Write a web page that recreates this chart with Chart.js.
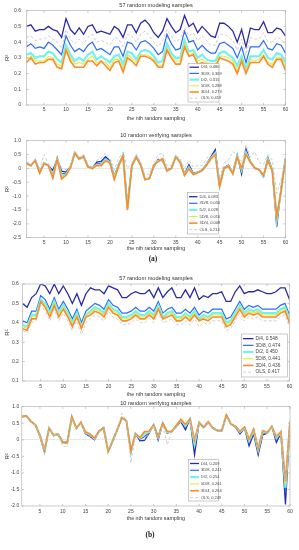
<!DOCTYPE html>
<html>
<head>
<meta charset="utf-8">
<script src="https://cdn.jsdelivr.net/npm/chart.js@4.4.1/dist/chart.umd.min.js"></script>
<style>
body{margin:0;background:#fff;width:299px;height:550px;overflow:hidden;position:relative;font-family:"Liberation Sans",Arial,sans-serif;}
canvas{position:absolute;left:0;}
.cap{position:absolute;font-family:"Liberation Serif",serif;font-weight:bold;font-size:7.5px;color:#222;transform:translate(-50%,-50%);}
</style>
</head>
<body>
<canvas id="c1" width="299" height="126"></canvas>
<canvas id="c2" width="299" height="126"></canvas>
<canvas id="c3" width="299" height="128"></canvas>
<canvas id="c4" width="299" height="128"></canvas>
<div class="cap" style="left:153px;top:257.5px">(a)</div>
<div class="cap" style="left:150px;top:534px">(b)</div>
<script>

// DATA

const seriesNames = ["D/4","3D/8","D/2","5D/8","3D/4","OLS"];
const xTicks = [5,10,15,20,25,30,35,40,45,50,55,60];

// (a) 57 random modeling samples
const modA_D4  = [0.50,0.51,0.47,0.48,0.48,0.50,0.48,0.47,0.43,0.55,0.48,0.45,0.49,0.45,0.50,0.51,0.46,0.47,0.46,0.45,0.50,0.48,0.43,0.51,0.51,0.46,0.52,0.54,0.51,0.46,0.43,0.47,0.55,0.50,0.46,0.48,0.57,0.50,0.52,0.46,0.50,0.47,0.44,0.43,0.52,0.52,0.50,0.47,0.40,0.48,0.37,0.49,0.48,0.48,0.53,0.46,0.46,0.49,0.48,0.44];
const modA_3D8 = [0.37,0.39,0.36,0.37,0.36,0.40,0.38,0.35,0.32,0.44,0.38,0.34,0.36,0.34,0.38,0.40,0.35,0.36,0.34,0.32,0.37,0.37,0.31,0.40,0.39,0.35,0.40,0.41,0.39,0.36,0.32,0.34,0.45,0.39,0.35,0.36,0.47,0.40,0.41,0.35,0.38,0.35,0.33,0.33,0.39,0.40,0.38,0.36,0.30,0.37,0.27,0.37,0.37,0.37,0.41,0.36,0.35,0.39,0.38,0.33];
const modA_D2  = [0.32,0.33,0.30,0.31,0.31,0.34,0.33,0.29,0.27,0.38,0.32,0.28,0.30,0.28,0.32,0.34,0.29,0.31,0.29,0.27,0.31,0.32,0.26,0.34,0.33,0.29,0.34,0.35,0.34,0.31,0.27,0.28,0.39,0.33,0.30,0.30,0.41,0.34,0.35,0.30,0.32,0.29,0.28,0.28,0.33,0.34,0.32,0.30,0.25,0.31,0.23,0.31,0.31,0.31,0.35,0.30,0.29,0.33,0.32,0.27];
const modA_5D8 = [0.29,0.31,0.28,0.28,0.28,0.31,0.30,0.26,0.25,0.36,0.30,0.26,0.27,0.26,0.29,0.31,0.27,0.28,0.27,0.24,0.29,0.29,0.23,0.32,0.30,0.27,0.32,0.32,0.31,0.29,0.25,0.25,0.36,0.31,0.28,0.28,0.39,0.32,0.33,0.28,0.29,0.27,0.26,0.26,0.31,0.31,0.30,0.28,0.22,0.29,0.21,0.29,0.28,0.29,0.32,0.27,0.26,0.30,0.30,0.24];
const modA_3D4 = [0.27,0.30,0.26,0.27,0.27,0.29,0.29,0.24,0.23,0.35,0.28,0.24,0.24,0.24,0.28,0.28,0.25,0.28,0.25,0.22,0.27,0.28,0.21,0.30,0.28,0.25,0.31,0.31,0.30,0.28,0.24,0.24,0.35,0.30,0.26,0.26,0.37,0.31,0.32,0.26,0.27,0.26,0.24,0.24,0.30,0.29,0.28,0.26,0.20,0.28,0.20,0.27,0.27,0.27,0.31,0.26,0.24,0.29,0.29,0.22];
const modA_OLS = [0.43,0.44,0.41,0.42,0.42,0.44,0.42,0.40,0.36,0.48,0.42,0.39,0.42,0.39,0.43,0.45,0.40,0.41,0.40,0.38,0.43,0.42,0.37,0.45,0.44,0.40,0.45,0.47,0.44,0.40,0.37,0.41,0.48,0.44,0.40,0.42,0.49,0.44,0.46,0.41,0.44,0.41,0.38,0.38,0.45,0.45,0.43,0.41,0.35,0.42,0.32,0.43,0.42,0.42,0.46,0.40,0.40,0.43,0.42,0.38];
const modA_legend = ["0.480","0.369","0.315","0.288","0.273","0.419"];

// (a) 10 random verifying samples
const verA_D4  = [0.20,0.10,0.30,-0.13,0.20,0.10,-0.07,0.35,-0.10,-0.13,0.05,0.57,0.33,0.45,0.08,0.00,0.23,0.25,0.42,0.27,-0.28,0.15,0.48,-1.30,0.10,0.45,0.15,-0.40,-0.35,0.05,0.33,0.27,-0.05,0.00,0.42,0.25,-0.20,0.13,-0.18,-0.13,-0.05,0.15,0.42,0.68,-0.60,0.03,0.12,-0.15,0.48,-0.20,0.70,0.25,0.00,-0.05,-0.30,0.38,-0.05,-2.10,-0.70,0.35];
const verA_3D8 = [0.20,0.10,0.30,-0.14,0.20,0.10,-0.20,0.35,-0.20,-0.18,0.05,0.57,0.33,0.44,0.07,0.00,0.17,0.18,0.36,0.24,-0.33,0.13,0.47,-1.40,0.10,0.43,0.14,-0.40,-0.35,0.08,0.30,0.30,-0.07,0.00,0.42,0.24,-0.22,0.07,-0.20,-0.14,-0.06,0.14,0.40,0.60,-0.62,0.02,0.10,-0.17,0.45,-0.10,0.62,0.24,0.02,-0.05,-0.28,0.34,-0.07,-1.95,-0.75,0.35];
const verA_D2  = [0.19,0.10,0.30,-0.15,0.19,0.10,-0.28,0.35,-0.28,-0.22,0.04,0.56,0.34,0.43,0.07,0.00,0.13,0.14,0.32,0.22,-0.36,0.12,0.46,-1.45,0.10,0.42,0.13,-0.40,-0.36,0.10,0.28,0.32,-0.08,0.00,0.42,0.23,-0.23,0.03,-0.21,-0.15,-0.07,0.13,0.37,0.55,-0.63,0.01,0.09,-0.18,0.43,-0.05,0.56,0.23,0.02,-0.05,-0.27,0.32,-0.08,-1.85,-0.78,0.35];
const verA_5D8 = [0.18,0.10,0.29,-0.16,0.18,0.10,-0.32,0.35,-0.33,-0.24,0.03,0.55,0.34,0.42,0.06,0.00,0.11,0.12,0.29,0.21,-0.38,0.11,0.45,-1.48,0.10,0.41,0.12,-0.40,-0.36,0.11,0.26,0.34,-0.08,0.00,0.41,0.22,-0.24,0.01,-0.22,-0.16,-0.08,0.12,0.36,0.52,-0.64,0.00,0.08,-0.19,0.42,-0.02,0.52,0.22,0.02,-0.05,-0.26,0.30,-0.09,-1.78,-0.80,0.35];
const verA_3D4 = [0.17,0.10,0.29,-0.17,0.17,0.10,-0.35,0.35,-0.38,-0.25,0.02,0.55,0.35,0.42,0.05,0.00,0.10,0.10,0.27,0.20,-0.40,0.10,0.45,-1.50,0.10,0.40,0.12,-0.40,-0.37,0.12,0.25,0.35,-0.09,0.00,0.41,0.21,-0.25,-0.01,-0.22,-0.16,-0.08,0.11,0.35,0.50,-0.65,0.00,0.08,-0.20,0.41,0.00,0.50,0.22,0.02,-0.05,-0.25,0.29,-0.10,-1.72,-0.82,0.35];
const verA_OLS = [0.25,0.15,0.32,0.00,0.50,0.15,0.05,0.35,0.00,-0.05,0.10,0.65,0.40,0.50,0.15,0.05,0.30,0.35,0.55,0.40,-0.05,0.35,0.60,0.00,0.20,0.50,0.25,-0.25,-0.20,0.20,0.50,0.55,0.10,0.10,0.50,0.35,0.00,0.30,0.05,0.10,0.10,0.35,0.55,0.45,-0.35,0.20,0.30,0.60,0.50,0.20,0.85,0.40,0.60,0.20,0.15,0.50,0.30,-0.90,-0.40,0.35];
const verA_legend = ["0.083","0.050","0.028","0.016","0.008","0.214"];

// (b) 57 random modeling samples
const modB_D4  = [0.50,0.48,0.53,0.55,0.60,0.59,0.55,0.60,0.55,0.59,0.55,0.50,0.55,0.49,0.55,0.58,0.57,0.57,0.55,0.59,0.58,0.57,0.53,0.53,0.55,0.56,0.55,0.55,0.57,0.53,0.58,0.53,0.56,0.58,0.53,0.53,0.57,0.53,0.58,0.52,0.54,0.53,0.55,0.55,0.56,0.51,0.51,0.56,0.59,0.55,0.56,0.56,0.57,0.56,0.55,0.55,0.56,0.58,0.58,0.52];
const modB_3D8 = [0.41,0.40,0.46,0.46,0.54,0.52,0.47,0.53,0.47,0.51,0.47,0.42,0.47,0.40,0.46,0.48,0.50,0.49,0.47,0.52,0.49,0.48,0.45,0.45,0.46,0.48,0.46,0.46,0.48,0.46,0.51,0.45,0.47,0.48,0.45,0.45,0.47,0.45,0.48,0.44,0.46,0.45,0.47,0.47,0.47,0.42,0.43,0.47,0.51,0.47,0.49,0.48,0.49,0.47,0.47,0.47,0.47,0.49,0.50,0.44];
const modB_D2  = [0.39,0.38,0.44,0.44,0.52,0.50,0.45,0.51,0.45,0.49,0.45,0.40,0.45,0.38,0.44,0.46,0.48,0.47,0.45,0.50,0.47,0.46,0.43,0.43,0.44,0.46,0.44,0.44,0.46,0.44,0.49,0.43,0.45,0.46,0.43,0.43,0.45,0.43,0.46,0.42,0.44,0.43,0.45,0.45,0.45,0.40,0.41,0.45,0.49,0.45,0.47,0.46,0.47,0.45,0.45,0.45,0.45,0.47,0.48,0.42];
const modB_5D8 = [0.38,0.37,0.43,0.43,0.51,0.49,0.44,0.50,0.44,0.48,0.44,0.39,0.44,0.37,0.44,0.45,0.47,0.46,0.44,0.49,0.46,0.45,0.42,0.42,0.43,0.45,0.43,0.43,0.45,0.43,0.48,0.42,0.44,0.45,0.42,0.42,0.44,0.42,0.45,0.41,0.43,0.42,0.44,0.44,0.44,0.39,0.40,0.44,0.48,0.44,0.46,0.45,0.46,0.44,0.44,0.44,0.44,0.46,0.47,0.41];
const modB_3D4 = [0.37,0.36,0.42,0.42,0.51,0.48,0.43,0.49,0.43,0.47,0.43,0.38,0.43,0.37,0.43,0.44,0.46,0.45,0.43,0.48,0.45,0.44,0.41,0.41,0.42,0.44,0.42,0.42,0.44,0.42,0.47,0.42,0.43,0.44,0.41,0.41,0.43,0.41,0.44,0.41,0.42,0.41,0.43,0.43,0.43,0.38,0.39,0.43,0.47,0.43,0.45,0.44,0.45,0.43,0.43,0.43,0.43,0.45,0.46,0.40];
const modB_OLS = [0.36,0.35,0.40,0.41,0.49,0.46,0.41,0.47,0.41,0.45,0.41,0.36,0.41,0.34,0.40,0.42,0.44,0.43,0.41,0.46,0.43,0.42,0.39,0.39,0.40,0.42,0.40,0.40,0.42,0.40,0.45,0.40,0.41,0.42,0.39,0.39,0.41,0.39,0.42,0.38,0.40,0.39,0.41,0.41,0.41,0.36,0.37,0.41,0.45,0.41,0.43,0.42,0.43,0.41,0.41,0.41,0.41,0.43,0.44,0.38];
const modB_legend = ["0.548","0.474","0.450","0.441","0.436","0.417"];

// (b) 10 random verifying samples
const verB_D4  = [0.70,0.72,0.55,0.45,0.10,-0.38,0.35,0.12,0.17,-0.07,-0.07,0.68,0.35,0.52,0.18,0.10,0.00,0.25,0.37,-0.35,-0.05,0.30,0.65,0.58,-0.38,0.18,-0.03,-0.02,0.20,0.45,0.00,0.50,0.20,0.25,0.40,0.55,0.30,0.62,-0.45,0.52,0.38,0.52,0.38,0.28,0.28,0.72,0.48,0.38,0.18,0.35,-0.18,0.18,-0.45,0.15,0.20,0.40,-0.08,0.20,-1.95,0.50];
const verB_3D8 = [0.70,0.72,0.55,0.45,0.12,-0.35,0.35,0.13,0.17,-0.07,-0.08,0.68,0.35,0.52,0.20,0.14,0.02,0.25,0.36,-0.35,-0.04,0.30,0.65,0.58,-0.36,0.18,0.02,0.10,0.22,0.45,0.05,0.50,0.22,0.25,0.42,0.58,0.38,0.62,-0.22,0.52,0.38,0.53,0.36,0.28,0.28,0.73,0.48,0.40,0.22,0.36,-0.08,0.25,-0.35,0.22,0.20,0.40,0.02,0.22,-1.60,0.52];
const verB_D2  = [0.70,0.72,0.56,0.45,0.13,-0.34,0.35,0.14,0.17,-0.08,-0.09,0.69,0.35,0.52,0.22,0.16,0.03,0.26,0.35,-0.35,-0.03,0.31,0.66,0.58,-0.35,0.18,0.05,0.18,0.24,0.45,0.08,0.50,0.23,0.25,0.43,0.60,0.42,0.63,-0.12,0.52,0.38,0.54,0.35,0.28,0.28,0.74,0.48,0.40,0.24,0.37,-0.03,0.28,-0.30,0.25,0.21,0.40,0.06,0.23,-1.45,0.53];
const verB_5D8 = [0.70,0.72,0.56,0.45,0.13,-0.33,0.35,0.14,0.17,-0.08,-0.10,0.69,0.35,0.52,0.23,0.17,0.04,0.26,0.35,-0.35,-0.03,0.31,0.66,0.58,-0.34,0.18,0.06,0.22,0.25,0.45,0.09,0.50,0.24,0.25,0.43,0.61,0.44,0.63,-0.06,0.52,0.38,0.54,0.35,0.28,0.28,0.74,0.48,0.41,0.25,0.37,0.00,0.30,-0.28,0.27,0.21,0.40,0.08,0.24,-1.35,0.54];
const verB_3D4 = [0.70,0.72,0.56,0.45,0.14,-0.32,0.35,0.15,0.17,-0.08,-0.10,0.70,0.35,0.52,0.24,0.18,0.05,0.27,0.34,-0.35,-0.02,0.31,0.67,0.58,-0.33,0.18,0.07,0.25,0.26,0.45,0.10,0.50,0.25,0.25,0.44,0.62,0.46,0.63,0.00,0.52,0.38,0.55,0.35,0.28,0.28,0.75,0.48,0.41,0.26,0.38,0.02,0.32,-0.26,0.28,0.22,0.40,0.10,0.25,-1.25,0.55];
const verB_OLS = [0.68,0.70,0.52,0.45,0.12,-0.30,0.38,0.15,0.20,-0.20,-0.20,0.65,0.35,0.50,0.18,0.10,0.02,0.25,0.33,-0.30,-0.05,0.30,0.80,0.58,-0.70,0.15,0.05,0.00,0.20,0.45,0.10,0.45,-0.15,0.25,0.40,0.55,0.45,0.60,0.00,0.55,0.40,0.55,0.35,0.30,0.30,0.70,0.50,0.40,0.25,0.35,0.05,0.30,-0.25,0.30,0.22,0.40,0.10,0.25,-1.20,0.55];
const verB_legend = ["0.209","0.241","0.254","0.261","0.264","0.249"];

// STYLES

const lineStyles = [
  {color:"#2b2ba6", width:1.3, dash:[]},
  {color:"#2c6cf6", width:1.2, dash:[]},
  {color:"#74f0ef", width:2.2, dash:[]},
  {color:"#dcee3a", width:1.1, dash:[]},
  {color:"#ff8a2e", width:1.6, dash:[]},
  {color:"#c4c4c4", width:0.8, dash:[3,2]}
];

const FONT = "'Liberation Sans', Arial, sans-serif";

// MATLAB style box with inward ticks
const boxPlugin = {
  id: "matlabBox",
  afterDatasetsDraw(chart){
    const ctx = chart.ctx;
    const a = chart.chartArea;
    const x = chart.scales.x, y = chart.scales.y;
    ctx.save();
    ctx.strokeStyle = "#a8a8a8";
    ctx.lineWidth = 0.6;
    ctx.strokeRect(a.left, a.top, a.right - a.left, a.bottom - a.top);
    ctx.beginPath();
    x.ticks.forEach(function(t){
      const px = x.getPixelForValue(t.value);
      ctx.moveTo(px, a.bottom); ctx.lineTo(px, a.bottom - 2.2);
      ctx.moveTo(px, a.top); ctx.lineTo(px, a.top + 2.2);
    });
    y.ticks.forEach(function(t){
      const py = y.getPixelForValue(t.value);
      ctx.moveTo(a.left, py); ctx.lineTo(a.left + 2.2, py);
      ctx.moveTo(a.right, py); ctx.lineTo(a.right - 2.2, py);
    });
    ctx.stroke();
    ctx.restore();
  }
};

// legend box inside the axes
const boxLegend = {
  id: "boxLegend",
  afterDraw(chart, args, o){
    if(!o || !o.values) return;
    const ctx = chart.ctx;
    ctx.save();
    ctx.fillStyle = "#fff";
    ctx.fillRect(o.x, o.y, o.w, o.h);
    ctx.strokeStyle = "#a8a8a8";
    ctx.lineWidth = 0.6;
    ctx.strokeRect(o.x, o.y, o.w, o.h);
    ctx.font = o.size + "px " + FONT;
    ctx.textBaseline = "middle";
    chart.data.datasets.forEach(function(ds, i){
      const yy = o.y + o.pad + o.row * (i + 0.5);
      ctx.strokeStyle = ds.borderColor;
      ctx.lineWidth = ds.borderWidth;
      ctx.setLineDash(ds.borderDash || []);
      ctx.beginPath();
      ctx.moveTo(o.x + 1.5, yy);
      ctx.lineTo(o.x + 1.5 + o.len, yy);
      ctx.stroke();
      ctx.setLineDash([]);
      ctx.fillStyle = "#444";
      ctx.fillText(ds.label + ", " + o.values[i], o.x + 3.5 + o.len, yy);
    });
    ctx.restore();
  }
};

function makeChart(id, s, lists, yMin, yMax, title, legend, zeroLine){

  const canvas = document.getElementById(id);
  canvas.style.top = s.top + "px";

  const titleSize = 5.6, tickSize = 5, labelSize = 5.3;
  const tTop = (s.titleY - s.top) - titleSize * 0.6;
  const tBottom = (s.plotTop - s.top) - titleSize * 1.2 - tTop;
  const xHeight = s.h - (s.plotBottom - s.top);

  const datasets = lists.map(function(list, i){
    return {
      label: seriesNames[i],
      data: list.map(function(v, k){ return {x: k + 1, y: v}; }),
      borderColor: lineStyles[i].color,
      borderWidth: lineStyles[i].width,
      borderDash: lineStyles[i].dash,
      pointRadius: 0,
      tension: 0,
      fill: false,
      order: 6 - i
    };
  });

  legend.y = legend.y - s.top;

  return new Chart(canvas, {
    type: "line",
    data: {datasets: datasets},
    plugins: [boxPlugin, boxLegend],
    options: {
      responsive: false,
      animation: false,
      events: [],
      layout: {padding: {left: 0, right: 299 - s.right, top: 0, bottom: 0}},
      plugins: {
        legend: {display: false},
        tooltip: {enabled: false},
        title: {
          display: true,
          text: title,
          fullSize: false,
          color: "#333",
          font: {family: FONT, size: titleSize, weight: "normal", lineHeight: 1.2},
          padding: {top: tTop, bottom: tBottom}
        },
        boxLegend: legend
      },
      scales: {
        x: {
          type: "linear",
          min: 1,
          max: 60,
          grid: {display: false, drawTicks: false},
          border: {display: false},
          afterBuildTicks: function(sc){ sc.ticks = xTicks.map(function(v){ return {value: v}; }); },
          afterFit: function(sc){ sc.height = xHeight; },
          ticks: {
            autoSkip: false,
            maxRotation: 0,
            color: "#444",
            padding: (s.tickY - s.plotBottom) - tickSize * 0.6,
            font: {family: FONT, size: tickSize, lineHeight: 1.2}
          },
          title: {
            display: true,
            text: "the nth random sampling",
            color: "#333",
            font: {family: FONT, size: labelSize, lineHeight: 1.2},
            padding: {top: 0, bottom: s.h - (s.xTitleY - s.top) - labelSize * 0.6}
          }
        },
        y: {
          min: yMin,
          max: yMax,
          grid: {
            display: zeroLine,
            drawTicks: false,
            lineWidth: 0.7,
            color: function(c){ return c.tick && c.tick.value === 0 ? "#dedede" : "rgba(0,0,0,0)"; }
          },
          border: {display: false},
          afterFit: function(sc){ sc.width = s.left; },
          ticks: {
            stepSize: s.step,
            color: "#444",
            padding: s.yPad,
            font: {family: FONT, size: tickSize, lineHeight: 1.2}
          },
          title: {
            display: true,
            text: "R²",
            color: "#333",
            font: {family: FONT, size: 6, lineHeight: 1.2},
            padding: {top: s.yTitleX - 3.6, bottom: 0}
          }
        }
      }
    }
  });
}

// PLOT (a) MODELING

makeChart("c1",
  {top: 0, h: 126, left: 26.5, right: 285.5, plotTop: 10.7, plotBottom: 105, titleY: 5.7, tickY: 110, xTitleY: 118.3, yTitleX: 7.3, yPad: 5.5, step: 0.1},
  [modA_D4, modA_3D8, modA_D2, modA_5D8, modA_3D4, modA_OLS], 0, 0.6,
  "57 random modeling samples",
  {x: 188, y: 63.5, w: 31, h: 38.5, pad: 0.6, row: 6.2, len: 9.5, size: 4, values: modA_legend},
  false);

// PLOT (a) VERIFYING

makeChart("c2",
  {top: 128, h: 126, left: 26.5, right: 285.5, plotTop: 140.7, plotBottom: 237.7, titleY: 135.7, tickY: 242.7, xTitleY: 248.3, yTitleX: 7.3, yPad: 5.5, step: 0.5},
  [verA_D4, verA_3D8, verA_D2, verA_5D8, verA_3D4, verA_OLS], -2.5, 1,
  "10 random verifying samples",
  {x: 187.5, y: 192.5, w: 31, h: 41.5, pad: 0.9, row: 6.6, len: 8.5, size: 4, values: verA_legend},
  true);

// PLOT (b) MODELING

makeChart("c3",
  {top: 270, h: 128, left: 22.6, right: 289.5, plotTop: 284, plotBottom: 381, titleY: 278, tickY: 386.7, xTitleY: 394.3, yTitleX: 7, yPad: 3.7, step: 0.1},
  [modB_D4, modB_3D8, modB_D2, modB_5D8, modB_3D4, modB_OLS], 0.1, 0.6,
  "57 random modeling samples",
  {x: 241.5, y: 334, w: 46, h: 43, pad: 1.3, row: 6.7, len: 10.5, size: 4.8, values: modB_legend},
  false);

// PLOT (b) VERIFYING

makeChart("c4",
  {top: 396, h: 128, left: 21.8, right: 290, plotTop: 406.7, plotBottom: 506, titleY: 403, tickY: 511.7, xTitleY: 519, yTitleX: 7, yPad: 2.5, step: 0.5},
  [verB_D4, verB_3D8, verB_D2, verB_5D8, verB_3D4, verB_OLS], -2, 1,
  "10 random verifying samples",
  {x: 188.5, y: 459.5, w: 30, h: 41.5, pad: 0.6, row: 6.8, len: 9, size: 4, values: verB_legend},
  true);

</script>
</body>
</html>
